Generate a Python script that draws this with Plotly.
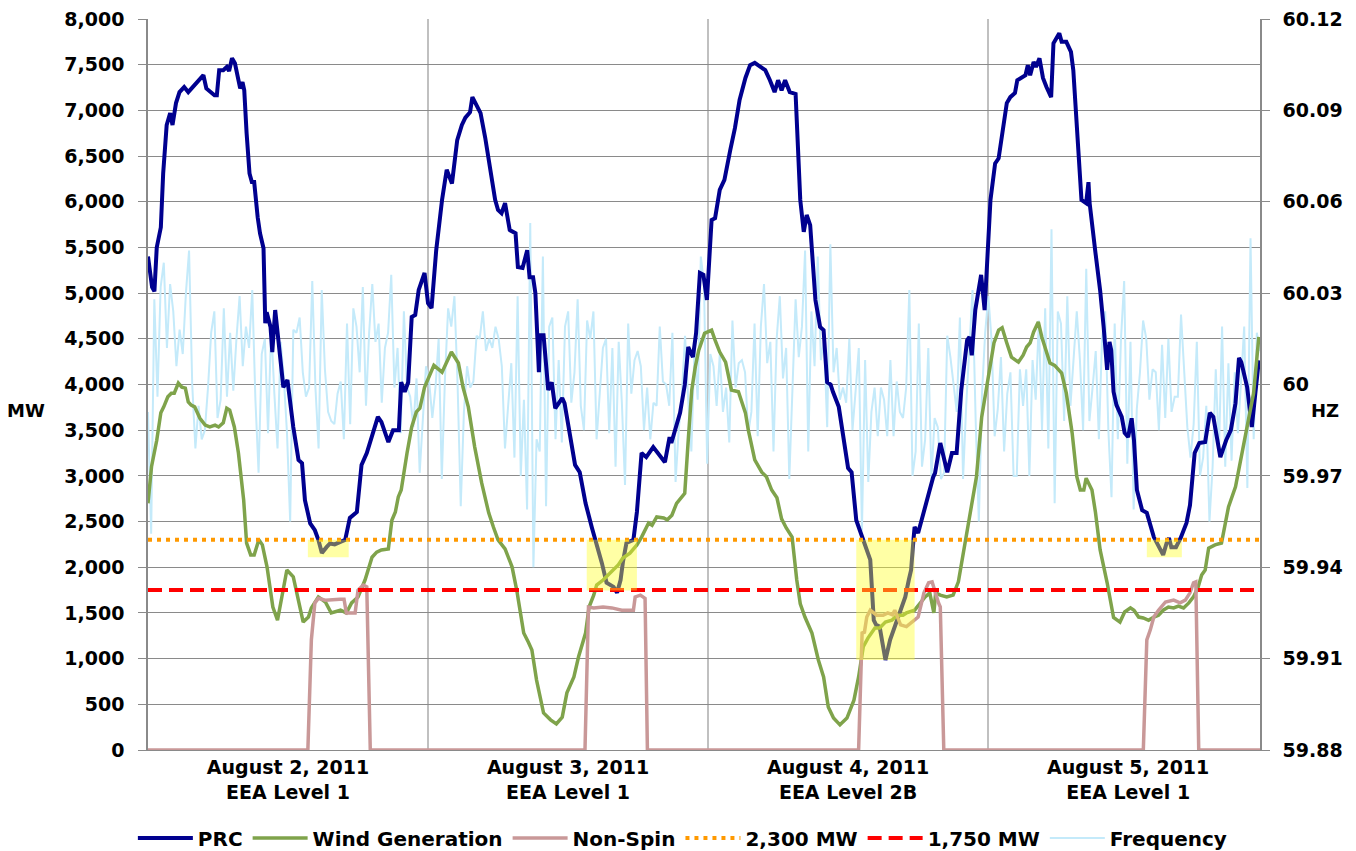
import plotly.graph_objects as go

# ---------------- data (time in hours from start of Aug 2, 2011) ----------------
x_end = 95.3
day_centers = [12, 36, 60, 84]
day_labels = ["August 2, 2011<br>EEA Level 1", "August 3, 2011<br>EEA Level 1",
              "August 4, 2011<br>EEA Level 2B", "August 5, 2011<br>EEA Level 1"]
day_bounds = [24, 48, 72]

mw_ticks = [0, 500, 1000, 1500, 2000, 2500, 3000, 3500, 4000, 4500, 5000, 5500, 6000, 6500, 7000, 7500, 8000]
hz_ticks = [59.88, 59.91, 59.94, 59.97, 60.0, 60.03, 60.06, 60.09, 60.12]
hz_labels = ["59.88", "59.91", "59.94", "59.97", "60", "60.03", "60.06", "60.09", "60.12"]

prc_h = [0.0, 0.35, 0.55, 0.75, 1.1, 1.3, 1.6, 1.9, 2.1, 2.4,
         2.7, 3.1, 3.45, 4.75, 5.0, 5.7, 5.9, 6.1, 6.45, 6.75,
         6.95, 7.2, 7.45, 7.9, 8.1, 8.25, 8.45, 8.7, 8.9, 9.1,
         9.4, 9.6, 9.9, 10.05, 10.17, 10.5, 10.65, 10.9, 11.6, 11.95,
         12.45, 12.9, 13.2, 13.45, 13.9, 14.3, 14.6, 14.9, 15.3, 15.6,
         16.0, 16.5, 16.9, 17.3, 17.9, 18.3, 18.75, 19.7, 20.0, 20.6,
         21.0, 21.5, 21.7, 22.0, 22.3, 22.6, 22.9, 23.2, 23.7, 24.0,
         24.3, 24.7, 25.2, 25.6, 26.05, 26.5, 26.9, 27.2, 27.6, 27.8,
         28.0, 28.5, 28.9, 29.3, 29.75, 30.0, 30.3, 30.6, 31.0, 31.5,
         31.7, 32.1, 32.3, 32.5, 32.7, 33.0, 33.2, 33.5, 33.6, 33.9,
         34.3, 34.6, 34.9, 35.5, 35.7, 36.6, 37.0, 37.5, 38.05, 38.3,
         38.9, 39.3, 39.9, 40.2, 40.5, 40.7, 41.0, 41.6, 41.9, 42.3,
         42.7, 43.3, 43.7, 44.3, 44.7, 44.85, 45.6, 46.0, 46.3, 46.7,
         46.97, 47.3, 47.6, 47.9, 48.3, 48.6, 49.0, 49.4, 49.9, 50.3,
         50.7, 51.2, 51.6, 52.0, 52.4, 52.9, 53.3, 53.7, 54.0, 54.3,
         54.6, 55.0, 55.5, 55.9, 56.2, 56.45, 56.75, 57.2, 57.6, 57.9,
         58.2, 58.5, 58.7, 59.2, 60.0, 60.3, 60.7, 61.2, 61.9, 62.2,
         62.4, 62.7, 63.2, 63.6, 64.0, 64.5, 64.9, 65.2, 65.4, 65.6,
         65.7, 66.0, 66.45, 67.0, 67.3, 67.45, 67.9, 68.5, 68.9, 69.3,
         69.7, 70.2, 70.4, 70.6, 70.9, 71.4, 71.7, 72.2, 72.6, 72.9,
         73.2, 73.6, 73.9, 74.3, 74.5, 74.8, 75.2, 75.4, 75.6, 75.9,
         76.1, 76.4, 76.7, 77.0, 77.4, 77.6, 78.1, 78.3, 78.7, 79.1,
         79.3, 80.0, 80.4, 80.6, 80.7, 81.2, 81.6, 81.9, 82.2, 82.4,
         82.55, 82.75, 83.0, 83.45, 83.7, 84.0, 84.3, 84.5, 84.75, 85.2,
         85.6, 86.2, 86.4, 87.0, 87.3, 87.5, 87.7, 88.1, 88.5, 89.0,
         89.3, 89.7, 90.1, 90.6, 91.0, 91.3, 91.9, 92.4, 92.8, 93.2,
         93.5, 93.7, 94.2, 94.6, 94.9, 95.2]
prc_mw = [5400, 5065, 5020, 5500, 5720, 6310, 6840, 6970, 6840, 7080,
          7200, 7255, 7200, 7385, 7240, 7165, 7165, 7440, 7440, 7475,
          7430, 7570, 7515, 7240, 7310, 7220, 6750, 6310, 6215, 6215,
          5830, 5655, 5490, 4670, 4790, 4630, 4355, 4815, 3970, 4050,
          3535, 3175, 3140, 2735, 2480, 2405, 2300, 2155, 2220, 2260,
          2250, 2280, 2300, 2540, 2605, 3120, 3250, 3645, 3590, 3370,
          3500, 3500, 4025, 3920, 4025, 4740, 4760, 5035, 5220, 4890,
          4835, 5470, 6020, 6350, 6200, 6675, 6840, 6920, 6980, 7145,
          7100, 6970, 6700, 6370, 6020, 5910, 5875, 5985, 5690, 5655,
          5285, 5275, 5395, 5470, 5175, 5175, 5000, 4135, 4540, 4540,
          3940, 4025, 3740, 3850, 3795, 3120, 3040, 2700, 2430, 2320,
          2045, 1830, 1785, 1720, 1860, 2055, 2265, 2300, 2605, 3250,
          3205, 3315, 3250, 3150, 3425, 3360, 3690, 3995, 4410, 4300,
          4560, 5220, 5200, 4925, 5800, 5820, 6130, 6240, 6565, 6805,
          7115, 7355, 7495, 7520, 7485, 7440, 7330, 7200, 7330, 7220,
          7330, 7200, 7180, 6020, 5670, 5855, 5745, 4925, 4630, 4595,
          4025, 4000, 3920, 3755, 3085, 3040, 2515, 2320, 2080, 1420,
          1370, 1350, 985, 1205, 1350, 1500, 1675, 1860, 1970, 2300,
          2440, 2375, 2595, 2845, 2990, 3030, 3360, 3040, 3250, 3250,
          3940, 4485, 4520, 4320, 4815, 5200, 4815, 6020, 6420, 6475,
          6765, 7080, 7145, 7190, 7330, 7355, 7385, 7495, 7385, 7530,
          7475, 7570, 7355, 7255, 7145, 7735, 7845, 7750, 7750, 7640,
          7440, 6020, 5985, 6215, 5985, 5440, 5030, 4630, 4160, 4465,
          4375, 3920, 3775, 3645, 3470, 3425, 3630, 3390, 2845, 2625,
          2595, 2330, 2275, 2135, 2265, 2320, 2220, 2220, 2320, 2485,
          2680, 3250, 3360, 3370, 3690, 3645, 3205, 3390, 3500, 3795,
          4290, 4245, 3970, 3535, 3905, 4265]

wind_h = [0.0, 0.3, 0.75, 1.1, 1.35, 1.7, 2.0, 2.25, 2.6, 2.9,
          3.2, 3.45, 3.7, 4.0, 4.45, 4.9, 5.3, 5.75, 6.05, 6.45,
          6.75, 7.0, 7.4, 7.75, 8.2, 8.45, 8.8, 9.1, 9.5, 9.8,
          10.2, 10.7, 11.1, 11.45, 11.9, 12.45, 12.9, 13.3, 13.75, 14.0,
          14.6, 15.2, 15.7, 16.5, 17.0, 17.45, 18.0, 18.6, 19.2, 19.6,
          20.0, 20.6, 20.9, 21.2, 21.45, 21.7, 22.2, 22.6, 23.0, 23.3,
          23.7, 24.2, 24.5, 25.2, 25.6, 26.0, 26.6, 27.0, 27.45, 28.0,
          28.6, 29.2, 29.6, 30.0, 30.6, 31.2, 31.6, 32.2, 32.6, 32.9,
          33.3, 33.9, 34.5, 35.0, 35.5, 35.9, 36.5, 36.9, 37.5, 37.8,
          38.2, 38.45, 39.0, 39.75, 40.3, 40.7, 41.3, 41.9, 42.3, 42.9,
          43.2, 43.6, 44.2, 44.5, 44.9, 45.3, 46.0, 46.3, 46.6, 46.9,
          47.2, 47.7, 48.3, 48.6, 49.0, 49.5, 50.0, 50.6, 51.2, 51.45,
          51.75, 52.0, 52.6, 53.0, 53.45, 53.9, 54.3, 54.7, 55.2, 55.6,
          55.9, 56.3, 56.9, 57.45, 57.9, 58.3, 58.75, 59.3, 59.9, 60.5,
          60.9, 61.3, 61.7, 62.3, 62.7, 63.2, 63.75, 64.2, 64.7, 65.0,
          65.7, 66.2, 66.6, 67.0, 67.35, 67.5, 67.9, 68.45, 69.0, 69.45,
          69.9, 70.3, 70.6, 71.0, 71.45, 72.0, 72.5, 72.9, 73.2, 73.6,
          74.0, 74.6, 75.0, 75.3, 75.6, 75.9, 76.3, 76.6, 76.9, 77.3,
          77.7, 78.3, 78.7, 79.2, 79.6, 79.9, 80.2, 80.4, 80.9, 81.2,
          81.6, 82.2, 82.75, 83.3, 83.7, 84.2, 84.5, 84.9, 85.3, 85.75,
          86.2, 86.6, 87.0, 87.45, 87.9, 88.3, 88.75, 89.2, 89.6, 90.0,
          90.3, 90.6, 90.9, 91.45, 92.0, 92.4, 92.6, 93.2, 93.7, 94.3,
          94.75, 95.2]
wind_mw = [2700, 3100, 3390, 3690, 3755, 3865, 3905, 3905, 4015, 3970,
           3960, 3810, 3775, 3755, 3630, 3555, 3535, 3555, 3535, 3580,
           3740, 3720, 3535, 3250, 2735, 2265, 2135, 2135, 2300, 2245,
           2005, 1565, 1420, 1675, 1970, 1895, 1640, 1400, 1455, 1555,
           1675, 1620, 1500, 1530, 1500, 1610, 1675, 1860, 2110, 2165,
           2190, 2200, 2515, 2605, 2770, 2845, 3250, 3535, 3700, 3740,
           3970, 4125, 4210, 4135, 4235, 4355, 4235, 3970, 3755, 3315,
           2920, 2595, 2440, 2300, 2200, 2005, 1750, 1280, 1180, 1095,
           765, 405, 330, 285, 360, 625, 800, 1020, 1280, 1565,
           1695, 1805, 1860, 1950, 2025, 2100, 2155, 2245, 2330, 2485,
           2460, 2550, 2540, 2520, 2570, 2700, 2810, 3390, 3940, 4190,
           4375, 4560, 4595, 4485, 4355, 4245, 3940, 3920, 3690, 3500,
           3315, 3175, 3040, 2990, 2845, 2760, 2530, 2430, 2330, 1860,
           1600, 1455, 1280, 985, 800, 470, 350, 275, 350, 545,
           800, 1130, 1225, 1335, 1335, 1400, 1420, 1475, 1475, 1500,
           1530, 1610, 1675, 1720, 1500, 1720, 1695, 1675, 1695, 1840,
           2190, 2485, 2735, 2990, 3645, 4080, 4455, 4595, 4620, 4455,
           4300, 4245, 4320, 4410, 4455, 4575, 4685, 4520, 4410, 4235,
           4210, 4125, 3905, 3470, 2990, 2845, 2845, 2975, 2845, 2600,
           2190, 1830, 1450, 1400, 1510, 1555, 1530, 1455, 1445, 1420,
           1455, 1475, 1530, 1565, 1555, 1575, 1555, 1610, 1675, 1785,
           1915, 1970, 2210, 2245, 2265, 2515, 2660, 2880, 3205, 3580,
           3905, 4520]

ns_h = [0, 13.7, 14.0, 14.3, 14.6, 15.2, 16.45, 16.8, 17.0, 17.75,
        18.0, 18.45, 18.75, 19.05, 37.45, 37.75, 38.2, 39.0, 39.75, 40.6,
        41.6, 41.75, 42.2, 42.6, 42.8, 60.9, 61.2, 61.4, 61.6, 61.9,
        62.45, 63.0, 63.4, 63.8, 64.0, 64.5, 65.0, 65.7, 66.0, 66.5,
        66.9, 67.2, 67.45, 67.75, 67.9, 68.2, 85.3, 85.6, 85.9, 86.2,
        86.6, 87.2, 87.9, 88.45, 88.9, 89.3, 89.6, 89.8, 90.05, 95.3]
ns_mw = [0, 0, 1205, 1610, 1660, 1640, 1650, 1650, 1500, 1500,
         1750, 1805, 1785, 0, 0, 1565, 1555, 1565, 1555, 1530,
         1530, 1675, 1695, 1660, 0, 0, 1280, 1290, 1455, 1530,
         1475, 1475, 1500, 1480, 1530, 1370, 1350, 1420, 1455, 1720,
         1830, 1840, 1720, 1610, 1565, 0, 0, 1205, 1315, 1455,
         1530, 1620, 1640, 1610, 1640, 1720, 1830, 1840, 0, 0]

thresholds = [2300, 1750]
threshold_names = ["2,300 MW", "1,750 MW"]

# EEA windows highlighted (start h, end h, lowest MW); top of box is the 2,300 MW level
hl_start = [13.7, 37.6, 60.7, 85.6]
hl_end = [17.2, 41.9, 65.7, 88.6]
hl_low = [2110, 1745, 985, 2110]

freq_hz = [
    59.991, 59.951, 60.028, 59.996, 60.032, 60.040, 60.012, 60.033, 60.024, 60.006,
    60.018, 60.010, 60.030, 60.044, 60.000, 59.979, 59.993, 59.982, 59.985, 59.999,
    60.017, 60.024, 59.989, 59.995, 60.025, 59.996, 60.017, 59.998, 60.015, 60.029,
    60.006, 60.019, 60.012, 60.031, 59.995, 59.971, 60.010, 60.015, 59.984, 60.019,
    59.997, 59.979, 60.014, 60.002, 59.984, 59.955, 60.018, 60.017, 60.022, 60.004,
    59.996, 59.999, 60.034, 59.999, 59.979, 60.031, 60.005, 59.991, 59.988,
    59.987, 59.997, 60.001, 59.982, 60.020, 59.987, 60.025, 60.019, 60.004, 60.032,
    59.993, 60.017, 60.033, 60.014, 60.020, 59.994, 60.012, 60.017, 60.036, 59.999,
    60.012, 59.984, 60.024, 59.999, 59.996, 59.986, 60.002, 59.971, 59.988, 60.006,
    60.001, 59.989, 59.999, 60.015, 59.969, 60.002, 60.025, 60.019, 60.029, 60.000,
    59.960, 59.991, 60.006, 59.999, 60.001, 60.016, 60.015, 60.024, 60.011, 60.015,
    60.012, 60.019, 60.015, 60.006, 59.979, 59.993, 60.007, 59.976, 60.029, 59.970,
    59.995,
    59.959, 60.053, 59.940, 59.982, 59.978, 60.042, 59.960, 60.019, 60.022, 59.982,
    60.008, 59.981, 60.019, 60.024, 59.994, 60.004, 60.028, 59.993, 59.985, 60.021,
    60.015, 60.024, 59.982, 59.997, 60.012, 60.015, 59.984, 60.012, 59.973, 60.014,
    59.994, 59.967, 60.020, 59.997, 60.008, 60.011, 60.006, 59.985, 59.999, 59.982,
    59.994, 59.993, 60.019, 60.001, 60.000, 59.993, 60.017, 59.968, 59.985, 59.997,
    60.016, 59.995, 59.978, 60.012, 59.995, 60.042, 60.033, 59.974, 60.010, 60.006,
    59.993,
    60.010, 59.991, 59.999, 59.981, 60.021, 59.999, 60.007, 60.008, 60.004, 59.984,
    59.991, 60.020, 59.983, 60.019, 60.033, 60.007, 60.014, 59.978, 60.015, 60.029,
    60.002, 60.012, 59.969, 59.997, 60.028, 60.009, 60.019, 60.044, 59.978, 60.024,
    60.006, 60.042, 60.008, 60.015, 59.986, 60.046, 60.004, 60.012, 59.995, 59.999,
    59.994, 60.015, 59.985, 59.998, 60.012, 59.952, 60.008, 59.968, 59.991, 59.999,
    59.983, 59.999, 59.995, 59.983, 60.008, 59.983, 60.001, 59.991,
    59.989, 59.999, 60.031, 59.970, 59.978, 60.020, 59.973, 59.982, 60.012, 59.969,
    59.989, 59.986, 59.969, 59.971, 60.016, 60.009, 59.999, 59.991, 60.022, 59.969,
    59.993, 60.014, 60.031, 59.988, 59.955, 59.997, 60.017, 60.029, 60.015, 59.983,
    59.992, 60.009, 59.978, 59.997, 60.004, 59.970, 59.970, 60.005, 59.993, 60.005,
    59.970, 60.008, 59.995, 60.021, 59.985, 60.025, 59.979, 60.051, 59.961, 60.024,
    60.020, 59.988, 60.029, 59.993, 60.008, 60.024, 60.008, 59.985, 60.038, 59.988,
    59.999,
    60.011, 59.982, 60.015, 60.024, 59.985, 59.963, 60.020, 59.982, 60.015, 60.034,
    59.974, 60.014, 59.959, 59.992, 60.004, 60.021, 60.015, 59.995, 60.005, 60.004,
    59.985, 60.013, 59.989, 60.015, 59.991, 59.996, 59.996, 60.023, 60.004, 59.986,
    59.976, 59.987, 60.014, 59.970, 59.976, 59.993, 59.955, 59.973, 60.005, 59.978,
    60.019, 59.973, 60.007, 59.975, 60.004, 59.984, 60.001, 60.019, 59.966, 60.048,
    59.982, 60.017, 60.011]
freq_step = x_end / (len(freq_hz) - 1)
freq_h = [i * freq_step for i in range(len(freq_hz))]

assert len(prc_h) == len(prc_mw)
assert len(wind_h) == len(wind_mw)
assert len(ns_h) == len(ns_mw)

# ---------------- figure ----------------
FONT = "DejaVu Sans"
GRID = "#8a8a8a"
TICKFONT = dict(family=FONT, size=19, color="black", weight="bold")

fig = go.Figure()

fig.add_trace(go.Scatter(x=prc_h, y=prc_mw, name="PRC", mode="lines", yaxis="y2",
                         line=dict(color="#00008f", width=4)))
fig.add_trace(go.Scatter(x=wind_h, y=wind_mw, name="Wind Generation", mode="lines", yaxis="y2",
                         line=dict(color="#7fa34b", width=3.5)))
fig.add_trace(go.Scatter(x=ns_h, y=ns_mw, name="Non-Spin", mode="lines", yaxis="y2",
                         line=dict(color="#c99898", width=3.5)))
fig.add_trace(go.Scatter(x=[0, x_end], y=[thresholds[0]] * 2, name=threshold_names[0], mode="lines",
                         yaxis="y2", line=dict(color="#ff9900", width=4, dash="4px,5px")))
fig.add_trace(go.Scatter(x=[0, x_end], y=[thresholds[1]] * 2, name=threshold_names[1], mode="lines",
                         yaxis="y2", line=dict(color="#ff0000", width=4, dash="14px,7px")))
fig.add_trace(go.Scatter(x=freq_h, y=freq_hz, name="Frequency", mode="lines", yaxis="y",
                         line=dict(color="#c4eafa", width=2)))

for s, e, lo in zip(hl_start, hl_end, hl_low):
    fig.add_shape(type="rect", xref="x", yref="y2", x0=s, x1=e, y0=lo, y1=thresholds[0],
                  fillcolor="rgba(255,255,40,0.42)", line=dict(width=0), layer="above")

# the page body has an 8px default margin, so the figure sits 8px right and down
fig.update_layout(
    width=1348, height=843,
    margin=dict(l=140, r=96, t=11, b=101, autoexpand=False),
    plot_bgcolor="white", paper_bgcolor="white",
    font=dict(family=FONT, size=19, color="black", weight="bold"),
    showlegend=True,
    legend=dict(orientation="h", x=0.481, xanchor="center", y=-0.1204, yanchor="middle",
                font=dict(family=FONT, size=20, color="black", weight="bold"),
                itemwidth=55, bgcolor="rgba(0,0,0,0)"),
    xaxis=dict(range=[0, x_end], tickmode="array", tickvals=day_centers, ticktext=day_labels,
               showgrid=False, zeroline=False, showline=True, linecolor=GRID, linewidth=1,
               ticks="", tickfont=TICKFONT, automargin=False, ticklabelstandoff=0,
               ticklabeloverflow="allow",
               minor=dict(tickmode="array", tickvals=day_bounds, showgrid=True,
                          gridcolor="#c0c0c0", gridwidth=1.5, ticks="")),
    yaxis=dict(range=[59.88, 60.12], side="right", tickmode="array", tickvals=hz_ticks,
               ticktext=hz_labels, showgrid=False, zeroline=False, showline=True,
               linecolor=GRID, linewidth=1.5, ticks="outside", ticklen=8, tickcolor=GRID,
               ticklabelstandoff=9, automargin=False, ticklabeloverflow="allow",
               tickfont=TICKFONT),
    yaxis2=dict(range=[0, 8000], side="left", overlaying="y", tickmode="array",
                tickvals=mw_ticks, tickformat=",", showgrid=True, gridcolor=GRID, gridwidth=1,
                zeroline=False, showline=True, linecolor=GRID, linewidth=1.5,
                ticks="outside", ticklen=8, tickcolor=GRID, ticklabelstandoff=10,
                automargin=False, ticklabeloverflow="allow", tickfont=TICKFONT),
)

fig.add_annotation(text="MW", xref="paper", yref="paper", x=-0.1097, y=0.465, showarrow=False,
                   xanchor="center", yanchor="middle",
                   font=dict(family=FONT, size=18, color="black", weight="bold"))
fig.add_annotation(text="HZ", xref="paper", yref="paper", x=1.0585, y=0.465, showarrow=False,
                   xanchor="center", yanchor="middle",
                   font=dict(family=FONT, size=18, color="black", weight="bold"))

fig.write_html("out.html")
